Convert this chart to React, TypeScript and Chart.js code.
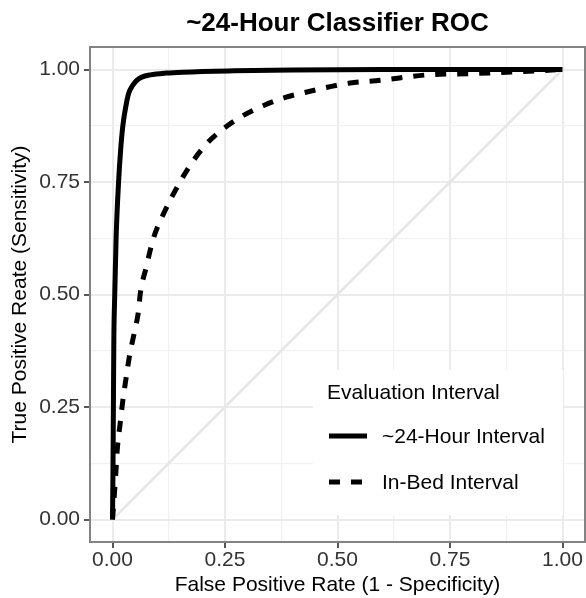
import React, { useEffect, useRef } from 'react';
import { Chart, registerables } from 'chart.js';

Chart.register(...registerables);

const FONT = '"Liberation Sans", Arial, Helvetica, sans-serif';

const TITLE = '~24-Hour Classifier ROC';
const X_TITLE = 'False Positive Rate (1 - Specificity)';
const Y_TITLE = 'True Positive Reate (Sensitivity)';
const LEGEND_TITLE = 'Evaluation Interval';
const SERIES_NAMES = ['~24-Hour Interval', 'In-Bed Interval'];

// grid positions (major + minor) and labelled ticks
const GRID_VALUES = [0, 0.125, 0.25, 0.375, 0.5, 0.625, 0.75, 0.875, 1];
const MAJOR_TICKS = [0, 0.25, 0.5, 0.75, 1];

// ~24-Hour interval ROC
const fpr24 = [0, 0.001, 0.002, 0.003, 0.005, 0.008, 0.0135, 0.018, 0.023, 0.03, 0.036, 0.045, 0.054, 0.065, 0.084, 0.12, 0.157, 0.27, 0.4, 0.6, 1];
const tpr24 = [0, 0.1, 0.25, 0.4, 0.5, 0.625, 0.75, 0.82, 0.875, 0.92, 0.947, 0.965, 0.976, 0.983, 0.988, 0.992, 0.994, 0.997, 0.999, 1, 1];

// In-Bed interval ROC
const fprBed = [0, 0.001, 0.0045, 0.008, 0.011, 0.017, 0.023, 0.03, 0.038, 0.048, 0.058, 0.0615, 0.075, 0.091, 0.11, 0.15, 0.18, 0.21, 0.247, 0.291, 0.336, 0.384, 0.432, 0.48, 0.528, 0.595, 0.699, 0.802, 0.906, 1];
const tprBed = [0, 0.013, 0.061, 0.113, 0.161, 0.213, 0.265, 0.313, 0.365, 0.413, 0.465, 0.5, 0.561, 0.625, 0.672, 0.75, 0.798, 0.836, 0.869, 0.898, 0.92, 0.938, 0.95, 0.961, 0.97, 0.976, 0.988, 0.991, 0.995, 1];

// chance line
const chanceFpr = [0, 1];
const chanceTpr = [0, 1];

const DASH = [11, 11];
const TEXT_SIZE = 21;

const isMajor = (v: number) => MAJOR_TICKS.some((m) => Math.abs(m - v) < 1e-9);

const toPoints = (xs: number[], ys: number[]) => xs.map((x, i) => ({ x, y: ys[i] }));

const decorPlugin = {
  id: 'decor',
  afterDraw(chart: any) {
    const { ctx, chartArea } = chart;
    const { left, right, top, bottom } = chartArea;
    ctx.save();
    // panel border
    ctx.strokeStyle = '#838383';
    ctx.lineWidth = 2;
    ctx.strokeRect(left, top, right - left, bottom - top);

    // title
    ctx.fillStyle = '#000';
    ctx.font = `bold 26px ${FONT}`;
    ctx.textAlign = 'center';
    ctx.textBaseline = 'alphabetic';
    ctx.fillText(TITLE, (left + right) / 2, 31);

    // legend
    const boxRight = right - 22;
    const boxBottom = bottom - 27;
    const boxLeft = boxRight - 250;
    const boxTop = boxBottom - 145;
    ctx.fillStyle = '#fff';
    ctx.fillRect(boxLeft, boxTop, boxRight - boxLeft, boxBottom - boxTop);

    ctx.fillStyle = '#000';
    ctx.textAlign = 'left';
    ctx.font = `${TEXT_SIZE}px ${FONT}`;
    ctx.fillText(LEGEND_TITLE, boxLeft + 14, boxTop + 29);

    const ds = chart.data.datasets;
    const rows = [boxTop + 66, boxTop + 112];
    [0, 1].forEach((i) => {
      const y = rows[i];
      ctx.beginPath();
      ctx.strokeStyle = '#000';
      ctx.lineWidth = 5;
      ctx.lineCap = 'butt';
      ctx.setLineDash(ds[i].borderDash || []);
      ctx.moveTo(boxLeft + 16, y);
      ctx.lineTo(boxLeft + 54, y);
      ctx.stroke();
      ctx.setLineDash([]);
      ctx.fillText(SERIES_NAMES[i], boxLeft + 69, y + 7);
    });
    ctx.restore();
  },
};

const gridColor = (c: any) => (c.tick && isMajor(c.tick.value) ? '#EBEBEB' : '#F1F1F1');
const gridWidth = (c: any) => (c.tick && isMajor(c.tick.value) ? 2 : 1.2);
const tickColor = (c: any) => (c.tick && isMajor(c.tick.value) ? '#444' : 'rgba(0,0,0,0)');
const tickLabel = (v: any) => (isMajor(Number(v)) ? Number(v).toFixed(2) : '');

export default function App() {
  const ref = useRef<HTMLCanvasElement | null>(null);

  useEffect(() => {
    document.body.style.margin = '0';
    if (!ref.current) return;
    const chart = new Chart(ref.current, {
      type: 'line',
      data: {
        datasets: [
          {
            label: SERIES_NAMES[0],
            data: toPoints(fpr24, tpr24),
            borderColor: '#000',
            borderWidth: 5,
            pointRadius: 0,
            cubicInterpolationMode: 'monotone',
            fill: false,
          },
          {
            label: SERIES_NAMES[1],
            data: toPoints(fprBed, tprBed),
            borderColor: '#000',
            borderWidth: 5,
            borderDash: DASH,
            borderCapStyle: 'butt',
            pointRadius: 0,
            cubicInterpolationMode: 'monotone',
            fill: false,
          },
          {
            label: 'chance',
            data: toPoints(chanceFpr, chanceTpr),
            borderColor: '#E6E6E6',
            borderWidth: 2.5,
            pointRadius: 0,
            fill: false,
          },
        ],
      } as any,
      options: {
        animation: false,
        responsive: false,
        devicePixelRatio: 1,
        layout: { padding: { top: 47, right: 1, left: 0, bottom: 0 } },
        plugins: {
          legend: { display: false },
          tooltip: { enabled: false },
          title: { display: false },
        },
        scales: {
          x: {
            type: 'linear',
            min: -0.05,
            max: 1.05,
            afterBuildTicks: (s: any) => {
              s.ticks = GRID_VALUES.map((v) => ({ value: v }));
            },
            afterFit: (s: any) => {
              s.height = 56;
            },
            border: { display: false },
            grid: {
              color: gridColor,
              lineWidth: gridWidth,
              tickColor: tickColor,
              tickLength: 6,
              tickWidth: 1.8,
            },
            ticks: {
              callback: tickLabel,
              autoSkip: false,
              maxRotation: 0,
              padding: 0,
              color: '#333',
              font: { family: FONT, size: TEXT_SIZE },
            },
            title: {
              display: true,
              text: X_TITLE,
              color: '#000',
              font: { family: FONT, size: TEXT_SIZE },
              padding: { top: 0, bottom: 0 },
            },
          },
          y: {
            type: 'linear',
            min: -0.05,
            max: 1.05,
            afterBuildTicks: (s: any) => {
              s.ticks = GRID_VALUES.map((v) => ({ value: v }));
            },
            afterFit: (s: any) => {
              s.width = 90;
            },
            border: { display: false },
            grid: {
              color: gridColor,
              lineWidth: gridWidth,
              tickColor: tickColor,
              tickLength: 6,
              tickWidth: 1.8,
            },
            ticks: {
              callback: tickLabel,
              autoSkip: false,
              padding: 4,
              color: '#333',
              font: { family: FONT, size: TEXT_SIZE },
            },
            title: {
              display: true,
              text: Y_TITLE,
              color: '#000',
              font: { family: FONT, size: TEXT_SIZE },
              padding: { top: 8, bottom: 0 },
            },
          },
        },
      } as any,
      plugins: [decorPlugin],
    });
    return () => chart.destroy();
  }, []);

  return <canvas ref={ref} width={586} height={598} style={{ display: 'block' }} />;
}
